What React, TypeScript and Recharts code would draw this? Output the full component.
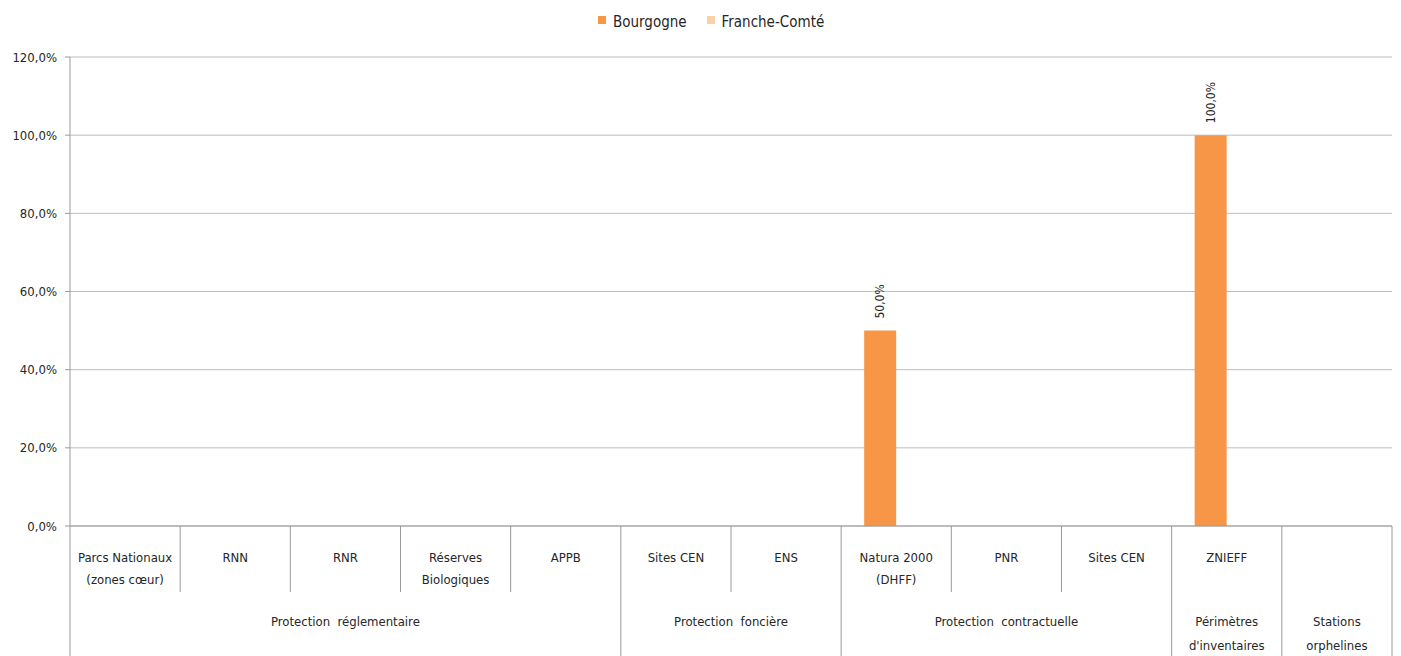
import { BarChart, Bar, XAxis, YAxis, CartesianGrid, LabelList } from 'recharts';

const categories = [
  'Parcs Nationaux\n(zones cœur)',
  'RNN',
  'RNR',
  'Réserves\nBiologiques',
  'APPB',
  'Sites CEN',
  'ENS',
  'Natura 2000\n(DHFF)',
  'PNR',
  'Sites CEN',
  'ZNIEFF',
  '',
];

const groups = [
  { label: 'Protection  réglementaire', span: 5 },
  { label: 'Protection  foncière', span: 2 },
  { label: 'Protection  contractuelle', span: 3 },
  { label: "Périmètres\nd'inventaires", span: 1 },
  { label: 'Stations\norphelines', span: 1 },
];

const bourgogne = [0, 0, 0, 0, 0, 0, 0, 50, 0, 0, 100, 0];
const francheComte = [0, 0, 0, 0, 0, 0, 0, 0, 0, 0, 0, 0];

const yTicks = [0, 20, 40, 60, 80, 100, 120];

const W = 1401;
const H = 656;
const LEFT = 70;
const RIGHT = 9;
const TOP = 57;
const XAXIS_H = 130;

const FONT = '"Liberation Sans Narrow", "DejaVu Sans Condensed", "DejaVu Sans", sans-serif';
const TEXT = '#262626';
const LINE = '#9a9a9a';

const ORANGE = '#f79646';
const LIGHT = '#fbd0a8';

const data = categories.map((c, i) => ({
  key: `c${i}`,
  name: c,
  bourgogne: bourgogne[i],
  francheComte: francheComte[i],
}));

// which categories start a group
const groupStart: Record<number, { label: string; span: number }> = {};
let acc = 0;
groups.forEach(g => {
  groupStart[acc] = g;
  acc += g.span;
});

const fmtPct = (v: number): string => `${v.toFixed(1).replace('.', ',')}%`;

const band = (W - LEFT - RIGHT) / categories.length;

const XTick = (props: any) => {
  const { x, payload, index } = props;
  const i = payload?.index ?? index;
  const cx = payload?.coordinate ?? x;
  const axisY = H - XAXIS_H;
  const left = cx - band / 2;
  const lines = categories[i].split('\n');
  const g = groupStart[i];
  const isLast = i === categories.length - 1;
  return (
    <g>
      <line x1={left} y1={axisY} x2={left} y2={g ? H : axisY + 66} stroke={LINE} strokeWidth={1} />
      {isLast && <line x1={cx + band / 2} y1={axisY} x2={cx + band / 2} y2={H} stroke={LINE} strokeWidth={1} />}
      {lines.map((l, k) => (
        <text key={k} x={cx} y={axisY + 36 + k * 22} textAnchor="middle" fontSize={13} fill={TEXT} fontFamily={FONT}>
          {l}
        </text>
      ))}
      {g &&
        g.label.split('\n').map((l, k) => (
          <text
            key={`g${k}`}
            x={left + (g.span * band) / 2}
            y={axisY + 100 + k * 24}
            textAnchor="middle"
            fontSize={13}
            fill={TEXT}
            fontFamily={FONT}
            style={{ whiteSpace: 'pre' }}
          >
            {l}
          </text>
        ))}
    </g>
  );
};

const ValueLabel = (props: any) => {
  const { x, y, width, value } = props;
  if (!value) return null;
  const cx = x + width / 2;
  const ty = y - 12;
  return (
    <text
      x={cx}
      y={ty}
      transform={`rotate(-90, ${cx}, ${ty})`}
      textAnchor="start"
      dominantBaseline="central"
      fontSize={12}
      fill={TEXT}
      fontFamily={FONT}
    >
      {fmtPct(value)}
    </text>
  );
};

const ChartLegend = () => (
  <div
    style={{
      position: 'absolute',
      left: 598,
      top: 12,
      display: 'flex',
      fontFamily: FONT,
      fontSize: 15,
      color: TEXT,
      lineHeight: '20px',
    }}
  >
    <span style={{ display: 'flex', alignItems: 'center', marginRight: 20 }}>
      <span style={{ width: 8, height: 8, background: ORANGE, marginRight: 7, marginTop: -5 }} />
      Bourgogne
    </span>
    <span style={{ display: 'flex', alignItems: 'center' }}>
      <span style={{ width: 8, height: 8, background: LIGHT, marginRight: 7, marginTop: -5 }} />
      Franche-Comté
    </span>
  </div>
);

export default function App() {
  return (
    <div style={{ position: 'absolute', left: 0, top: 0, width: W, height: H, background: '#fff' }}>
      <BarChart
        width={W}
        height={H}
        data={data}
        margin={{ top: TOP, right: RIGHT, bottom: 0, left: 0 }}
        barGap={0}
        barSize={32}
      >
        <CartesianGrid horizontal vertical={false} stroke="#bdbdbd" />
        <XAxis
          dataKey="key"
          height={XAXIS_H}
          axisLine={{ stroke: LINE }}
          tickLine={false}
          interval={0}
          tick={<XTick />}
        />
        <YAxis
          width={LEFT}
          domain={[0, 120]}
          ticks={yTicks}
          tickFormatter={fmtPct}
          axisLine={{ stroke: LINE }}
          tickLine={{ stroke: LINE }}
          tickSize={5}
          tickMargin={8}
          tick={{ fontSize: 13, fill: TEXT, fontFamily: FONT }}
        />
        <Bar dataKey="bourgogne" name="Bourgogne" fill={ORANGE} isAnimationActive={false}>
          <LabelList dataKey="bourgogne" content={<ValueLabel />} />
        </Bar>
        <Bar dataKey="francheComte" name="Franche-Comté" fill={LIGHT} isAnimationActive={false} />
      </BarChart>
      <ChartLegend />
    </div>
  );
}
